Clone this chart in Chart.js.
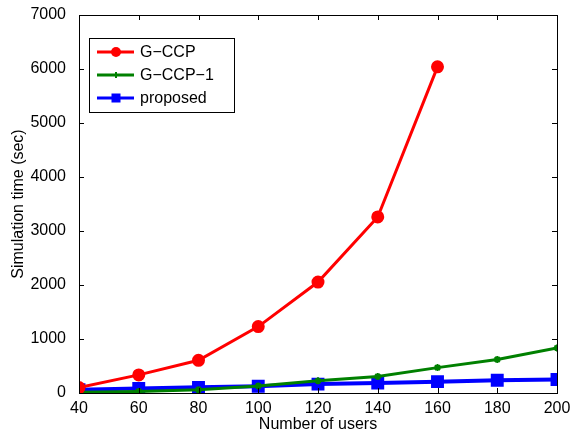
<!DOCTYPE html>
<html><head><meta charset="utf-8">
<script src="https://cdn.jsdelivr.net/npm/chart.js@4/dist/chart.umd.min.js"></script>
<style>html,body{margin:0;padding:0;background:#fff}</style>
</head><body>
<canvas id="c" width="582" height="436"></canvas>
<script>
const users = [40, 60, 80, 100, 120, 140, 160, 180, 200];
const gccp = [100, 335, 605, 1230, 2055, 3260, 6040, null, null];
const gccp1 = [15, 30, 60, 130, 225, 305, 470, 620, 835];
const proposed = [60, 85, 105, 125, 165, 185, 210, 235, 250];
const seriesNames = ['G\u2212CCP', 'G\u2212CCP\u22121', 'proposed'];
const yTicks = [0, 1000, 2000, 3000, 4000, 5000, 6000, 7000];
const FONT = 'Liberation Sans, Arial, sans-serif';

const boxPlugin = {
  id: 'box',
  afterDatasetsDraw(chart) {
    const {ctx, chartArea: a, scales: {x, y}} = chart;
    ctx.save();
    ctx.strokeStyle = '#000';
    ctx.lineWidth = 1;
    ctx.strokeRect(Math.round(a.left)+0.5, Math.round(a.top)+0.5, Math.round(a.right-a.left), Math.round(a.bottom-a.top));
    ctx.beginPath();
    users.filter(v => v % 20 === 0).forEach(v => {
      const px = Math.round(x.getPixelForValue(v)) + 0.5;
      ctx.moveTo(px, a.bottom); ctx.lineTo(px, a.bottom - 5);
      ctx.moveTo(px, a.top); ctx.lineTo(px, a.top + 5);
    });
    yTicks.forEach(v => {
      const py = Math.round(y.getPixelForValue(v)) + 0.5;
      ctx.moveTo(a.left, py); ctx.lineTo(a.left + 5, py);
      ctx.moveTo(a.right, py); ctx.lineTo(a.right - 5, py);
    });
    ctx.stroke();
    // legend
    const lx = 89, ly = 38, lw = 145, lh = 74;
    ctx.fillStyle = '#fff';
    ctx.fillRect(lx, ly, lw, lh);
    ctx.strokeRect(lx + 0.5, ly + 0.5, lw, lh);
    chart.data.datasets.forEach((ds, i) => {
      const cy = ly + 14 + i * 23;
      ctx.strokeStyle = ds.borderColor;
      ctx.lineWidth = 3;
      ctx.beginPath(); ctx.moveTo(lx + 8, cy); ctx.lineTo(lx + 45, cy); ctx.stroke();
      ctx.fillStyle = ds.borderColor;
      const mx = lx + 27;
      if (ds.pointStyle === 'circle') { ctx.beginPath(); ctx.arc(mx, cy, 5, 0, Math.PI*2); ctx.fill(); }
      else if (ds.pointStyle === 'rect') { ctx.fillRect(mx - 4.5, cy - 4.5, 9, 9); }
      else { ctx.lineWidth = 2; ctx.beginPath(); ctx.moveTo(mx-3,cy); ctx.lineTo(mx+3,cy); ctx.moveTo(mx,cy-3); ctx.lineTo(mx,cy+3); ctx.stroke(); }
      ctx.fillStyle = '#000';
      ctx.font = '16px ' + FONT;
      ctx.textBaseline = 'middle';
      ctx.fillText(ds.label, lx + 51, cy + 1);
    });
    ctx.restore();
  }
};

new Chart(document.getElementById('c'), {
  type: 'line',
  data: {
    labels: users,
    datasets: [
      {label: seriesNames[0], data: gccp, borderColor: '#ff0000', backgroundColor: '#ff0000', borderWidth: 3, pointStyle: 'circle', pointRadius: 5, spanGaps: false},
      {label: seriesNames[1], data: gccp1, borderColor: '#008000', backgroundColor: '#008000', borderWidth: 3, pointStyle: 'star', pointRadius: 3.5, pointBorderWidth: 2},
      {label: seriesNames[2], data: proposed, borderColor: '#0000ff', backgroundColor: '#0000ff', borderWidth: 4, pointStyle: 'rect', pointRadius: 6.3}
    ]
  },
  options: {
    responsive: false,
    animation: false,
    layout: {padding: {top: 15, right: 25, left: 0, bottom: 0}},
    plugins: {legend: {display: false}, tooltip: {enabled: false}},
    scales: {
      x: {
        type: 'linear', min: 40, max: 200,
        grid: {display: false}, border: {display: false},
        ticks: {stepSize: 20, color: '#000', font: {family: FONT, size: 16}, padding: -2, maxRotation: 0, callback: v => String(v)},
        title: {display: true, text: 'Number of users', color: '#000', font: {family: FONT, size: 16}, padding: {top: 0, bottom: 2}},
        afterFit(s) { s.height = 43; }
      },
      y: {
        min: 0, max: 7000,
        grid: {display: false}, border: {display: false},
        ticks: {stepSize: 1000, color: '#000', font: {family: FONT, size: 16}, padding: 5, callback: v => String(v)},
        title: {display: true, text: 'Simulation time (sec)', color: '#000', font: {family: FONT, size: 16}, padding: {top: 9, bottom: 0}},
        afterFit(s) { s.width = 79; }
      }
    }
  },
  plugins: [boxPlugin]
});
</script>
</body></html>
